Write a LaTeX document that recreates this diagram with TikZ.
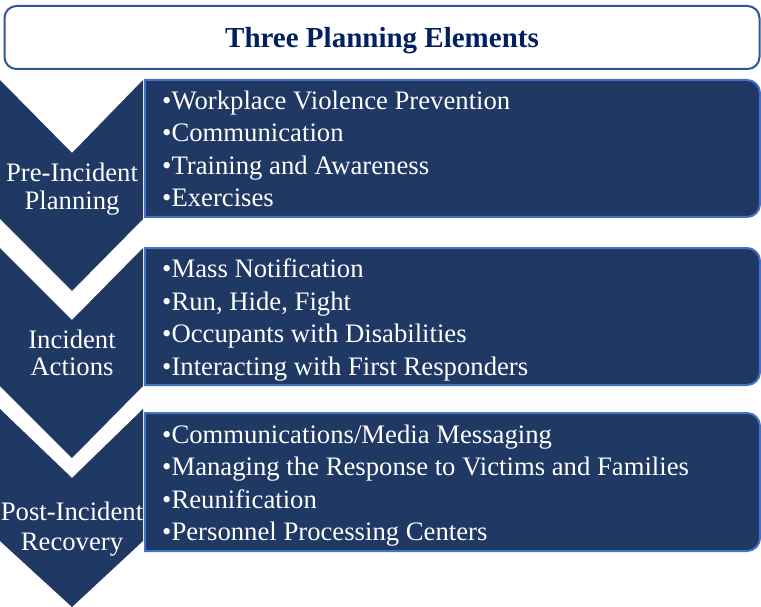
\documentclass[tikz,border=0pt]{standalone}
\usepackage{fontspec}
\setmainfont{Liberation Serif}
\definecolor{navy}{HTML}{1F3864}
\definecolor{edgeblue}{HTML}{4472C4}
\definecolor{titleblue}{HTML}{2F5597}
\definecolor{titletext}{HTML}{002060}

\begin{document}
\begin{tikzpicture}[x=1pt, y=1pt,
	stage/.style={fill=navy, draw=none},
	itembox/.style={fill=navy, draw=edgeblue, line width=2pt},
	stagetext/.style={text=white, align=center, inner sep=0pt, font=\fontsize{26.7}{27.5}\selectfont},
	itemtext/.style={text=white, align=left, anchor=west, inner sep=0pt, font=\fontsize{26.7}{32.5}\selectfont}]
	\useasboundingbox (0,0) rectangle (761,-607);
	\node[draw=titleblue, line width=2pt, rounded corners=12pt, minimum width=755pt, minimum height=63pt, text depth=0pt, text=titletext, font=\fontsize{29}{34}\selectfont\bfseries] (title) at (382,-37.5) {Three Planning Elements};
	\fill[stage] (0,-80) -- (72,-153) -- (143,-80) -- (143,-219) -- (72,-291) -- (0,-219) -- cycle;
	\fill[stage] (0,-248) -- (72,-320) -- (143,-248) -- (143,-386) -- (72,-458) -- (0,-386) -- cycle;
	\fill[stage] (0,-409) -- (72,-478) -- (143,-409) -- (143,-541) -- (72,-607) -- (0,-541) -- cycle;
	\draw[itembox] (145,-80) -- (747,-80) arc[start angle=90, end angle=0, radius=13] -- (760,-204) arc[start angle=0, end angle=-90, radius=13] -- (145,-217) -- cycle;
	\draw[itembox] (145,-248) -- (747,-248) arc[start angle=90, end angle=0, radius=13] -- (760,-372) arc[start angle=0, end angle=-90, radius=13] -- (145,-385) -- cycle;
	\draw[itembox] (145,-413) -- (747,-413) arc[start angle=90, end angle=0, radius=13] -- (760,-538) arc[start angle=0, end angle=-90, radius=13] -- (145,-551) -- cycle;
	\node[stagetext] (pre) at (72,-189) {Pre-Incident\\Planning};
	\node[stagetext] (act) at (72,-353) {Incident\\Actions};
	\node[stagetext] (post) at (72,-529) {Post-Incident\\[3pt]Recovery};
	\node[itemtext] (prelist) at (162,-149) {\textbullet Workplace Violence Prevention\\\textbullet Communication\\\textbullet Training and Awareness\\\textbullet Exercises};
	\node[itemtext] (actlist) at (162,-320) {\textbullet Mass Notification\\\textbullet Run, Hide, Fight\\\textbullet Occupants with Disabilities\\\textbullet Interacting with First Responders};
	\node[itemtext] (postlist) at (162,-485.5) {\textbullet Communications/Media Messaging\\\textbullet Managing the Response to Victims and Families\\\textbullet Reunification\\\textbullet Personnel Processing Centers};
\end{tikzpicture}
\end{document}
